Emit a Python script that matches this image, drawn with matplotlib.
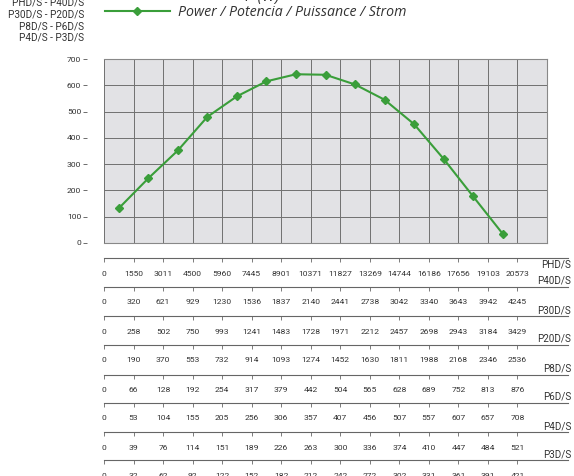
import numpy as np
import matplotlib
matplotlib.use("Agg")
import matplotlib.pyplot as plt
from matplotlib import font_manager

# power curve (W), one point per flow interval
power = [132, 246, 352, 480, 558, 615, 642, 640, 603, 545, 452, 320, 177, 35]
y_ticks = [0, 100, 200, 300, 400, 500, 600, 700]

# flow scales for each model (one row per model)
models = ["PHD/S", "P40D/S", "P30D/S", "P20D/S", "P8D/S", "P6D/S", "P4D/S", "P3D/S"]
scales = [
    [0, 1550, 3011, 4500, 5960, 7445, 8901, 10371, 11827, 13269, 14744, 16186, 17656, 19103, 20573],
    [0, 320, 621, 929, 1230, 1536, 1837, 2140, 2441, 2738, 3042, 3340, 3643, 3942, 4245],
    [0, 258, 502, 750, 993, 1241, 1483, 1728, 1971, 2212, 2457, 2698, 2943, 3184, 3429],
    [0, 190, 370, 553, 732, 914, 1093, 1274, 1452, 1630, 1811, 1988, 2168, 2346, 2536],
    [0, 66, 128, 192, 254, 317, 379, 442, 504, 565, 628, 689, 752, 813, 876],
    [0, 53, 104, 155, 205, 256, 306, 357, 407, 456, 507, 557, 607, 657, 708],
    [0, 39, 76, 114, 151, 189, 226, 263, 300, 336, 374, 410, 447, 484, 521],
    [0, 32, 62, 92, 122, 152, 182, 212, 242, 272, 302, 331, 361, 391, 421],
]
model_pairs = ["PHD/S - P40D/S", "P30D/S - P20D/S", "P8D/S - P6D/S", "P4D/S - P3D/S"]
legend_label = "Power / Potencia / Puissance / Strom"

W, H = 574, 476
GREEN = "#3a9e3a"
TXT = "#333333"

# pick a narrow font if there is one
installed = {f.name for f in font_manager.fontManager.ttflist}
if "Liberation Sans Narrow" in installed:
    NARROW, small = ["Liberation Sans Narrow", "DejaVu Sans"], 6.6
else:
    NARROW, small = ["Roboto", "DejaVu Sans"], 6.1


def fx(px):
    return px / W


def fy(py):
    return 1 - py / H


fig = plt.figure(figsize=(W / 100, H / 100), dpi=100)

# main chart
left, right, top, bottom = 104, 547, 59, 243
ax = fig.add_axes([fx(left), fy(bottom), (right - left) / W, (bottom - top) / H])
ax.spines["left"].set_position(("outward", 12.5))
ax.spines["left"].set_visible(False)
ax.set_facecolor("#e2e2e5")
xs = np.arange(len(power)) + 0.5
line, = ax.plot(xs, power, color=GREEN, lw=1.5, marker="D", ms=4, label=legend_label)
ax.set_xlim(0, 15)
ax.set_ylim(0, 700)
ax.set_xticks(np.arange(0, 16))
ax.set_xticklabels([])
ax.tick_params(axis="x", length=0)
ax.set_yticks(y_ticks)
ax.set_yticklabels([str(v) for v in y_ticks], family=NARROW, fontsize=small, color=TXT)
ax.tick_params(axis="y", length=3, width=0.6, pad=1, color="#555555")
for s in ["top", "right", "bottom"]:
    ax.spines[s].set_color("#888888")
    ax.spines[s].set_linewidth(0.8)
ax.grid(True, color="#707070", lw=0.7)
ax.set_axisbelow(True)

# one flow axis per model below the chart
row_lines = [258, 287, 316, 345, 375, 403, 432, 460]
unit = (right - left) / 15
row_right = 568
for i, (name, vals, yl) in enumerate(zip(models, scales, row_lines)):
    rax = fig.add_axes([fx(left), fy(yl), (row_right - left) / W, 0.0001])
    rax.set_xlim(0, (row_right - left) / unit)
    rax.set_ylim(0, 1)
    for s in ["top", "right", "left"]:
        rax.spines[s].set_visible(False)
    rax.spines["bottom"].set_color("#666666")
    rax.spines["bottom"].set_linewidth(0.8)
    rax.set_yticks([])
    rax.set_xticks(np.arange(len(vals)))
    rax.set_xticklabels([str(v) for v in vals], family=NARROW, fontsize=small, color=TXT)
    rax.tick_params(axis="x", length=3, width=0.6, pad=6, color="#666666")
    rax.patch.set_visible(False)
    if i == 0:
        fig.text(fx(571), fy(yl + 2), name, ha="right", va="top",
                 family=NARROW, fontsize=small + 1, color=TXT)
    else:
        fig.text(fx(571), fy(yl - 1), name, ha="right", va="bottom",
                 family=NARROW, fontsize=small + 1, color=TXT)

# model pairs in the top-left corner
for j, lbl in enumerate(model_pairs):
    fig.text(fx(84), fy(2 + 12 * j), lbl, ha="right", va="center",
             family=NARROW, fontsize=small + 1.1, color=TXT)

fig.text(fx(262), fy(-3), "P (W)", ha="center", va="center",
         fontsize=11, style="italic", color=TXT, family=["Open Sans", "DejaVu Sans"])

fig.legend(handles=[line], loc="center left", bbox_to_anchor=(fx(92), fy(12)),
           frameon=False, handlelength=4.6, handletextpad=0.6,
           prop={"family": ["Open Sans", "DejaVu Sans"], "style": "italic", "size": 10.2},
           labelcolor=TXT)

fig.savefig("out.png", dpi=100)
